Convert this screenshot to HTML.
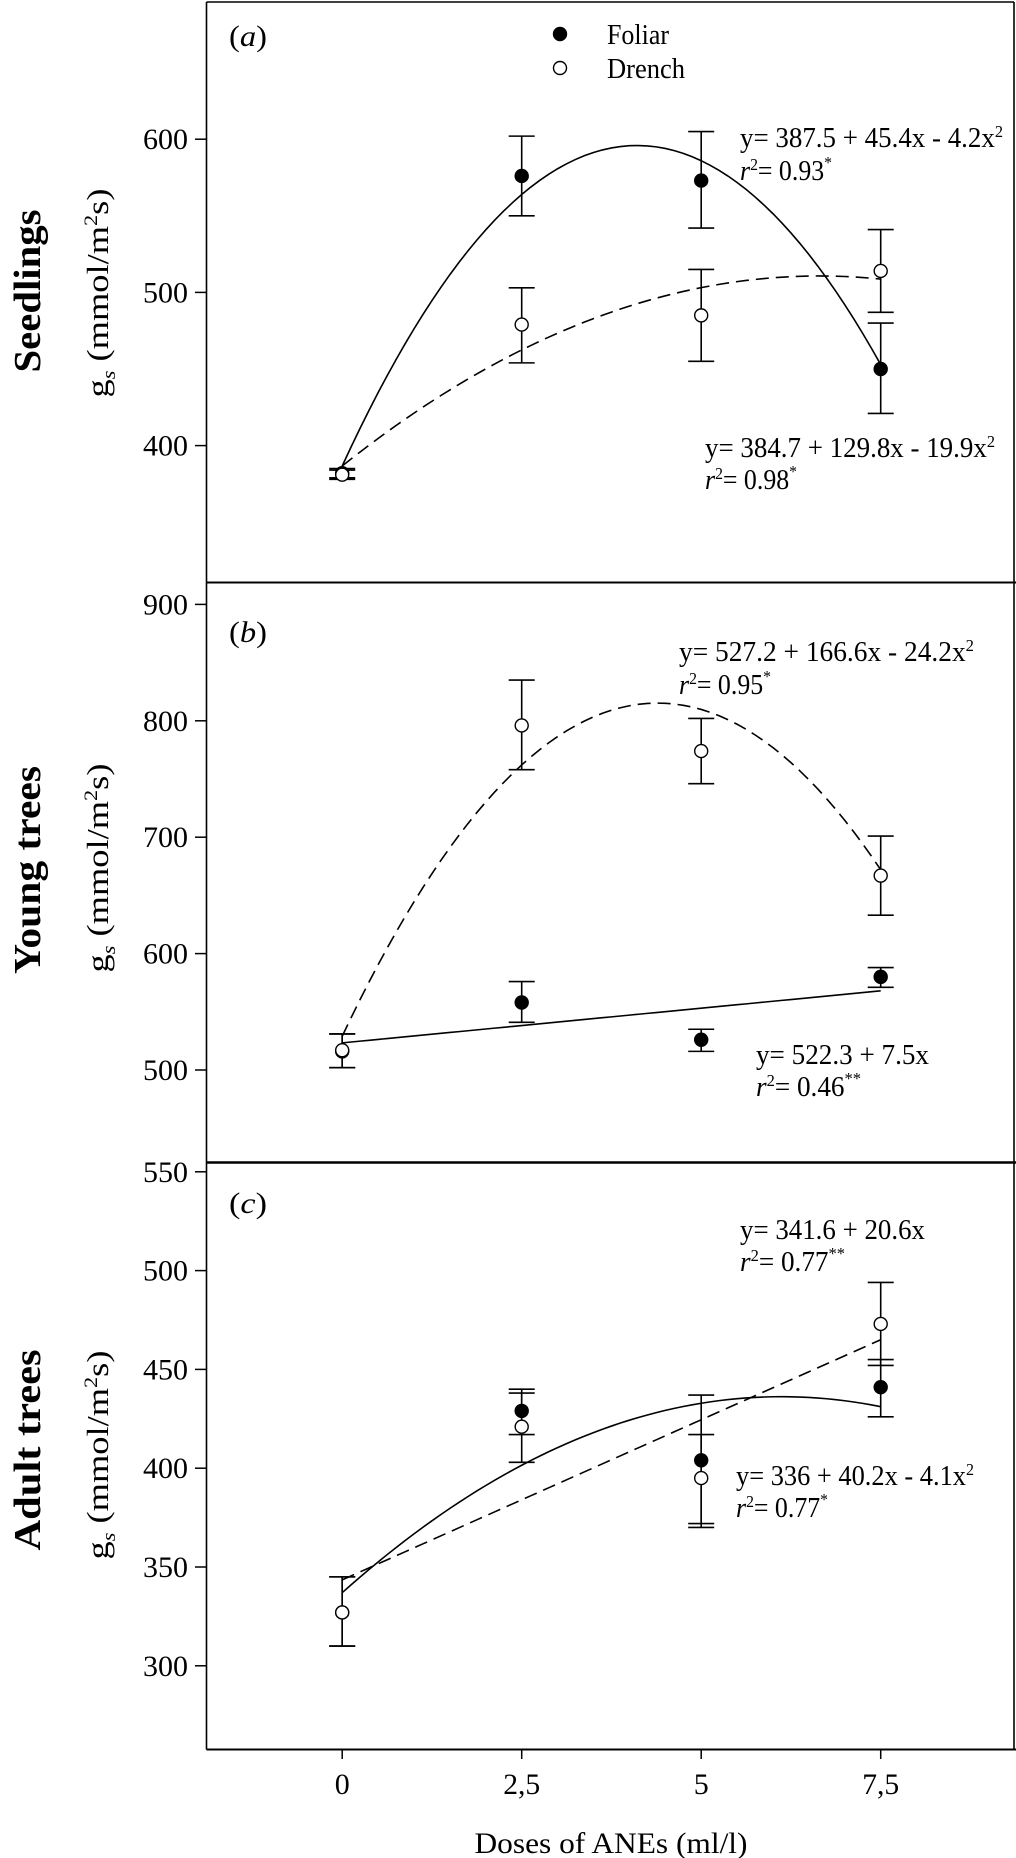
<!DOCTYPE html>
<html><head><meta charset="utf-8"><style>
html,body{margin:0;padding:0;background:#fff;}
svg{display:block;font-family:"Liberation Serif",serif;}
</style></head><body>
<svg id="chart" width="1016" height="1858" viewBox="0 0 1016 1858" xmlns="http://www.w3.org/2000/svg">
<g id="frame" fill="none" stroke="#000" stroke-width="1.6">
<line x1="206.5" y1="2" x2="1014" y2="2"/>
<line x1="206.5" y1="2" x2="206.5" y2="1749.5"/>
<line x1="1014" y1="2" x2="1014" y2="1749.5"/>
<line x1="206.5" y1="582.5" x2="1016" y2="582.5" stroke-width="2"/>
<line x1="206.5" y1="1162.5" x2="1016" y2="1162.5" stroke-width="2.4"/>
<line x1="206.5" y1="1749.5" x2="1016" y2="1749.5" stroke-width="2"/>
</g>
<g id="layer"></g>
<g font-size="30">
<text x="229" y="46" font-style="italic" textLength="38" lengthAdjust="spacingAndGlyphs"><tspan font-style="normal">(</tspan>a<tspan font-style="normal">)</tspan></text>
<text x="229" y="642" font-style="italic" textLength="38" lengthAdjust="spacingAndGlyphs"><tspan font-style="normal">(</tspan>b<tspan font-style="normal">)</tspan></text>
<text x="229" y="1213" font-style="italic" textLength="38" lengthAdjust="spacingAndGlyphs"><tspan font-style="normal">(</tspan>c<tspan font-style="normal">)</tspan></text>
</g>
<g font-size="28">
<circle cx="560" cy="34" r="6.5" fill="#000" stroke="#000" stroke-width="1.4"/>
<text x="607" y="44" textLength="62" lengthAdjust="spacingAndGlyphs">Foliar</text>
<circle cx="560" cy="68" r="6.5" fill="#fff" stroke="#000" stroke-width="1.4"/>
<text x="607" y="78" textLength="78" lengthAdjust="spacingAndGlyphs">Drench</text>
</g>
<g font-size="28">
<text x="740" y="147" textLength="263" lengthAdjust="spacingAndGlyphs">y= 387.5 + 45.4x - 4.2x<tspan dy="-10" font-size="17">2</tspan></text>
<text x="740" y="180" textLength="92" lengthAdjust="spacingAndGlyphs"><tspan font-style="italic">r</tspan><tspan dy="-10" font-size="17">2</tspan><tspan dy="10">= 0.93</tspan><tspan dy="-12" font-size="17">*</tspan></text>
<text x="705" y="457" textLength="290" lengthAdjust="spacingAndGlyphs">y= 384.7 + 129.8x - 19.9x<tspan dy="-10" font-size="17">2</tspan></text>
<text x="705" y="489" textLength="92" lengthAdjust="spacingAndGlyphs"><tspan font-style="italic">r</tspan><tspan dy="-10" font-size="17">2</tspan><tspan dy="10">= 0.98</tspan><tspan dy="-12" font-size="17">*</tspan></text>
<text x="679" y="661" textLength="295" lengthAdjust="spacingAndGlyphs">y= 527.2 + 166.6x - 24.2x<tspan dy="-10" font-size="17">2</tspan></text>
<text x="679" y="694" textLength="92" lengthAdjust="spacingAndGlyphs"><tspan font-style="italic">r</tspan><tspan dy="-10" font-size="17">2</tspan><tspan dy="10">= 0.95</tspan><tspan dy="-12" font-size="17">*</tspan></text>
<text x="756" y="1064" textLength="173" lengthAdjust="spacingAndGlyphs">y= 522.3 + 7.5x</text>
<text x="756" y="1096" textLength="105" lengthAdjust="spacingAndGlyphs"><tspan font-style="italic">r</tspan><tspan dy="-10" font-size="17">2</tspan><tspan dy="10">= 0.46</tspan><tspan dy="-12" font-size="17">**</tspan></text>
<text x="740" y="1239" textLength="185" lengthAdjust="spacingAndGlyphs">y= 341.6 + 20.6x</text>
<text x="740" y="1271" textLength="105" lengthAdjust="spacingAndGlyphs"><tspan font-style="italic">r</tspan><tspan dy="-10" font-size="17">2</tspan><tspan dy="10">= 0.77</tspan><tspan dy="-12" font-size="17">**</tspan></text>
<text x="736" y="1485" textLength="238" lengthAdjust="spacingAndGlyphs">y= 336 + 40.2x - 4.1x<tspan dy="-10" font-size="17">2</tspan></text>
<text x="736" y="1517" textLength="92" lengthAdjust="spacingAndGlyphs"><tspan font-style="italic">r</tspan><tspan dy="-10" font-size="17">2</tspan><tspan dy="10">= 0.77</tspan><tspan dy="-12" font-size="17">*</tspan></text>
</g>
<g text-anchor="middle">
<text transform="translate(40,291) rotate(-90)" font-size="38" font-weight="bold" textLength="163" lengthAdjust="spacingAndGlyphs">Seedlings</text>
<text transform="translate(40,870) rotate(-90)" font-size="38" font-weight="bold" textLength="208" lengthAdjust="spacingAndGlyphs">Young trees</text>
<text transform="translate(40,1450) rotate(-90)" font-size="38" font-weight="bold" textLength="201" lengthAdjust="spacingAndGlyphs">Adult trees</text>
<text transform="translate(108,293) rotate(-90)" font-size="31" textLength="209" lengthAdjust="spacingAndGlyphs">g<tspan font-size="19" font-style="italic" dy="7">s</tspan><tspan dy="-7"> (mmol/m</tspan><tspan font-size="19" dy="-11">2</tspan><tspan dy="11">s)</tspan></text>
<text transform="translate(108,868) rotate(-90)" font-size="31" textLength="209" lengthAdjust="spacingAndGlyphs">g<tspan font-size="19" font-style="italic" dy="7">s</tspan><tspan dy="-7"> (mmol/m</tspan><tspan font-size="19" dy="-11">2</tspan><tspan dy="11">s)</tspan></text>
<text transform="translate(108,1455) rotate(-90)" font-size="31" textLength="209" lengthAdjust="spacingAndGlyphs">g<tspan font-size="19" font-style="italic" dy="7">s</tspan><tspan dy="-7"> (mmol/m</tspan><tspan font-size="19" dy="-11">2</tspan><tspan dy="11">s)</tspan></text>
<text x="611" y="1853" font-size="30" textLength="273" lengthAdjust="spacingAndGlyphs">Doses of ANEs (ml/l)</text>
</g>
<script>
const doses=[0,2.5,5,7.5];
const xTickLabels=["0","2,5","5","7,5"];
const aTicks=[400,500,600];
const bTicks=[500,600,700,800,900];
const cTicks=[300,350,400,450,500,550];
const aFoliar=[382,576,573,450];
const aFoliarLo=[379,550,542,421];
const aFoliarHi=[385,602,605,480];
const aDrench=[381,479,485,514];
const aDrenchLo=[378,454,455,487];
const aDrenchHi=[384,503,515,541];
const bFoliar=[516,558,526,580];
const bFoliarLo=[502,541,516,571];
const bFoliarHi=[531,576,535,588];
const bDrench=[517,796,774,667];
const bDrenchLo=[502,758,746,633];
const bDrenchHi=[531,835,802,701];
const cFoliar=[327,429,404,441];
const cFoliarLo=[310,417,372,426];
const cFoliarHi=[345,440,417,455];
const cDrench=[327,421,395,473];
const cDrenchLo=[310,403,370,452];
const cDrenchHi=[345,438,437,494];
const aFoliarFit=[386.7,101.9,-12.41];
const aDrenchFit=[386.7,37.31,-2.806];
const bFoliarFit=[523.3,5.96,0];
const bDrenchFit=[529,130.3,-14.83];
const cFoliarFit=[337,32.42,-2.649];
const cDrenchFit=[343.5,16.2,0];

const NS="http://www.w3.org/2000/svg";
const layer=document.getElementById('layer');
function xs(d){return 342.2+d*71.8;}
function ya(v){return 445.6-(v-400)*1.532;}
function yb(v){return 1070-(v-500)*1.164;}
function yc(v){return 1665.8-(v-300)*1.976;}
function mk(tag,attrs){const e=document.createElementNS(NS,tag);for(const k in attrs)e.setAttribute(k,attrs[k]);layer.appendChild(e);return e;}
function labLen(s){let n=0;for(const ch of s)n+=(ch===','?7:15);return n;}

function ticks(vals,ys,pname){
  vals.forEach(v=>{
    const t=mk('line',{x1:195,x2:206.5,y1:ys(v),y2:ys(v),stroke:'#000','stroke-width':1.5});
    
    
    const s=String(v);
    const l=mk('text',{x:188,y:ys(v)+10,'text-anchor':'end','font-size':30,textLength:labLen(s),lengthAdjust:'spacingAndGlyphs'});
    l.textContent=s;
    
    
  });
}
function curve(fit,ys,dashed,name){
  let d='';
  for(let i=0;i<=60;i++){const x=7.5*i/60;const v=fit[0]+fit[1]*x+fit[2]*x*x;d+=(i?'L':'M')+xs(x).toFixed(2)+','+ys(v).toFixed(2);}
  const p=mk('path',{d:d,fill:'none',stroke:'#000','stroke-width':1.6});
  if(dashed)p.setAttribute('stroke-dasharray','13,7');
  
  
}
function errs(lo,hi,ys,name){
  doses.forEach((d,i)=>{
    const x=xs(d);
    const g=mk('path',{d:`M${x},${ys(lo[i])}V${ys(hi[i])}M${x-13},${ys(lo[i])}H${x+13}M${x-13},${ys(hi[i])}H${x+13}`,fill:'none',stroke:'#000','stroke-width':1.6});
    
    
  });
}
function pts(vals,ys,filled,name){
  doses.forEach((d,i)=>{
    const c=mk('circle',{cx:xs(d),cy:ys(vals[i]),r:6.5,fill:filled?'#000':'#fff',stroke:'#000','stroke-width':1.4});
    
    
  });
}
ticks(aTicks,ya,'panel-a');ticks(bTicks,yb,'panel-b');ticks(cTicks,yc,'panel-c');
curve(aFoliarFit,ya,false,'fit-a-foliar');curve(aDrenchFit,ya,true,'fit-a-drench');
curve(bFoliarFit,yb,false,'fit-b-foliar');curve(bDrenchFit,yb,true,'fit-b-drench');
curve(cFoliarFit,yc,false,'fit-c-foliar');curve(cDrenchFit,yc,true,'fit-c-drench');
errs(aFoliarLo,aFoliarHi,ya,'errorbar-a-foliar');errs(aDrenchLo,aDrenchHi,ya,'errorbar-a-drench');
errs(bFoliarLo,bFoliarHi,yb,'errorbar-b-foliar');errs(bDrenchLo,bDrenchHi,yb,'errorbar-b-drench');
errs(cFoliarLo,cFoliarHi,yc,'errorbar-c-foliar');errs(cDrenchLo,cDrenchHi,yc,'errorbar-c-drench');
pts(aFoliar,ya,true,'point-a-foliar');pts(aDrench,ya,false,'point-a-drench');
pts(bFoliar,yb,true,'point-b-foliar');pts(bDrench,yb,false,'point-b-drench');
pts(cFoliar,yc,true,'point-c-foliar');pts(cDrench,yc,false,'point-c-drench');
doses.forEach((d,i)=>{
  const t=mk('line',{x1:xs(d),x2:xs(d),y1:1749.5,y2:1759,stroke:'#000','stroke-width':1.5});
  
  
  const s=xTickLabels[i];
  const l=mk('text',{x:xs(d),y:1794,'text-anchor':'middle','font-size':30,textLength:labLen(s),lengthAdjust:'spacingAndGlyphs'});
  l.textContent=s;
  
  
});
</script>
</svg>
</body></html>
